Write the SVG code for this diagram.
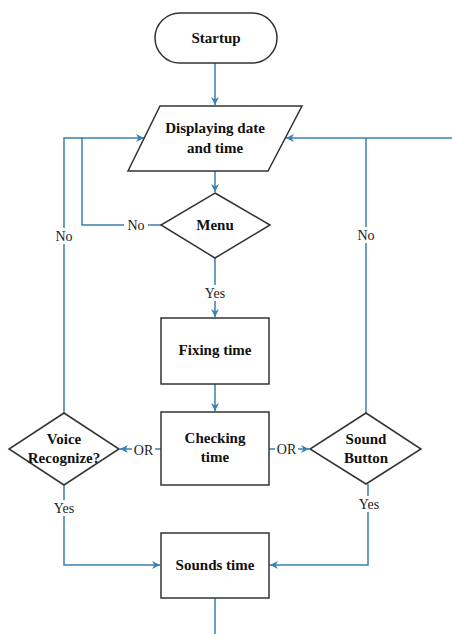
<svg xmlns="http://www.w3.org/2000/svg" width="452" height="634" viewBox="0 0 452 634">
<style>
.shape{fill:#fff;stroke:#333;stroke-width:1.5}
.t{font-family:"Liberation Serif",serif;font-size:15px;font-weight:bold;fill:#111;text-anchor:middle}
.lbl{font-family:"Liberation Serif",serif;font-size:14px;fill:#222;text-anchor:middle}
.c{fill:none;stroke:#3a80b0;stroke-width:1.5}
.bg{fill:#fff}
</style>
<defs>
<marker id="ar" viewBox="0 0 10 10" refX="10" refY="5" markerWidth="8" markerHeight="8" markerUnits="userSpaceOnUse" orient="auto">
<path d="M0,0 L10,5 L0,10 L3,5 z" fill="#3a80b0"/>
</marker>
</defs>
<rect width="452" height="634" fill="#fff"/>
<g id="connectors">
<path class="c" d="M215,63 V105" marker-end="url(#ar)"/>
<path class="c" d="M215,171 V192" marker-end="url(#ar)"/>
<path class="c" d="M161,225 H82 V138 H144" marker-end="url(#ar)"/>
<path class="c" d="M64,413 V138 H82"/>
<path class="c" d="M452,138 H286" marker-end="url(#ar)"/>
<path class="c" d="M366,413 V138"/>
<path class="c" d="M215,258 V317" marker-end="url(#ar)"/>
<path class="c" d="M215,384 V411" marker-end="url(#ar)"/>
<path class="c" d="M161,449 H120" marker-end="url(#ar)"/>
<path class="c" d="M269,449 H309" marker-end="url(#ar)"/>
<path class="c" d="M64,485 V565 H160" marker-end="url(#ar)"/>
<path class="c" d="M368,484 V565 H270" marker-end="url(#ar)"/>
<path class="c" d="M215,598 V634"/>
<rect class="bg" x="124" y="217" width="24" height="16"/>
<text class="lbl" x="136" y="230">No</text>
<rect class="bg" x="52" y="228" width="24" height="16"/>
<text class="lbl" x="64" y="241">No</text>
<rect class="bg" x="354" y="227" width="24" height="16"/>
<text class="lbl" x="366" y="240">No</text>
<rect class="bg" x="201" y="285" width="28" height="16"/>
<text class="lbl" x="215" y="298">Yes</text>
<rect class="bg" x="50" y="500" width="28" height="16"/>
<text class="lbl" x="64" y="513">Yes</text>
<rect class="bg" x="355" y="496" width="28" height="16"/>
<text class="lbl" x="369" y="509">Yes</text>
<rect class="bg" x="132" y="442" width="23" height="15"/>
<text class="lbl" x="143.5" y="454.5">OR</text>
<rect class="bg" x="275" y="441" width="23" height="15"/>
<text class="lbl" x="286.5" y="453.5">OR</text>
</g>
<g id="startup">
<rect class="shape" x="155" y="13" width="122" height="50" rx="25" ry="25"/>
<text class="t" x="216" y="43">Startup</text>
</g>
<g id="display">
<polygon class="shape" points="160,106 302,106 268,171 128,171"/>
<text class="t" x="215" y="133">Displaying date</text>
<text class="t" x="215" y="153">and time</text>
</g>
<g id="menu">
<polygon class="shape" points="215,193 270,225 215,258 161,225"/>
<text class="t" x="215" y="230">Menu</text>
</g>
<g id="fixing">
<rect class="shape" x="161" y="318" width="108" height="66"/>
<text class="t" x="215" y="355">Fixing time</text>
</g>
<g id="checking">
<rect class="shape" x="161" y="412" width="108" height="73"/>
<text class="t" x="215" y="443">Checking</text>
<text class="t" x="215" y="462">time</text>
</g>
<g id="voice">
<polygon class="shape" points="64,413 119,449 64,485 9,449"/>
<text class="t" x="64" y="444">Voice</text>
<text class="t" x="64" y="463">Recognize?</text>
</g>
<g id="sound">
<polygon class="shape" points="366,413 421,449 366,484 310,449"/>
<text class="t" x="366" y="444">Sound</text>
<text class="t" x="366" y="463">Button</text>
</g>
<g id="sounds">
<rect class="shape" x="161" y="533" width="108" height="65"/>
<text class="t" x="215" y="570">Sounds time</text>
</g>
</svg>
